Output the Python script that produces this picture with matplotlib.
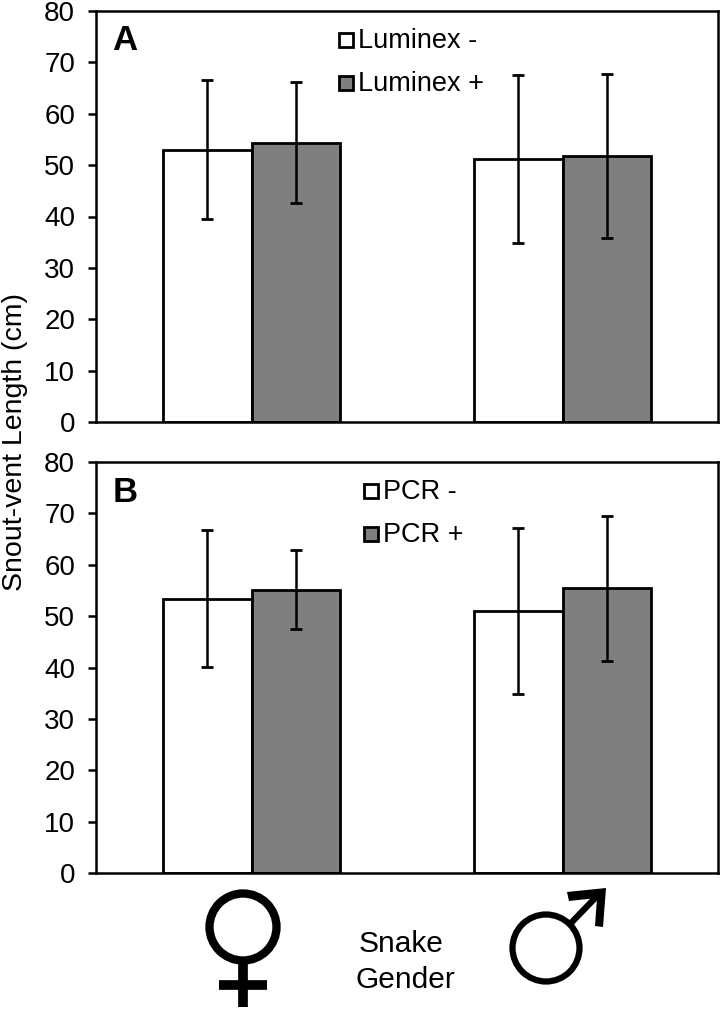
#!/usr/bin/env python3
"""Snout-vent length by snake gender, Luminex and PCR panels."""

import matplotlib
matplotlib.use("Agg")
import matplotlib.pyplot as plt
from matplotlib.patches import Circle, Polygon

plt.rcParams["font.family"] = ["Liberation Sans", "DejaVu Sans"]

W, H = 720, 1009
GREY = "#7f7f7f"

genders = ["Female", "Male"]
yticks = [0, 10, 20, 30, 40, 50, 60, 70, 80]

# panel A
lum_neg = [53.0, 51.2]
lum_neg_err = [13.5, 16.3]
lum_pos = [54.4, 51.8]
lum_pos_err = [11.7, 15.9]

# panel B
pcr_neg = [53.4, 51.0]
pcr_neg_err = [13.3, 16.2]
pcr_pos = [55.1, 55.4]
pcr_pos_err = [7.7, 14.1]


def panel(top, bottom, neg, neg_err, pos, pos_err, labels, letter, leg_x, leg_y):
    ax = fig.add_axes([96 / W, 1 - bottom / H, (718 - 96) / W, (bottom - top) / H])
    bw = 0.286
    xs = range(len(genders))
    err_kw = dict(ecolor="black", elinewidth=1.8, capsize=4, capthick=2)
    ax.bar([x - bw / 2 for x in xs], neg, bw, yerr=neg_err, color="white",
           edgecolor="black", linewidth=2.0, error_kw=err_kw, label=labels[0])
    ax.bar([x + bw / 2 for x in xs], pos, bw, yerr=pos_err, color=GREY,
           edgecolor="black", linewidth=2.0, error_kw=err_kw, label=labels[1])
    ax.set_xlim(-0.5, 1.5)
    ax.set_ylim(0, 80)
    ax.set_yticks(yticks)
    ax.set_xticks([])
    ax.tick_params(axis="y", length=6, width=1.8, labelsize=20, pad=9)
    for s in ax.spines.values():
        s.set_linewidth(1.8)
    ax.text((125 - 96) / (718 - 96), 1 - (leg_y + 1 - top) / (bottom - top), letter,
            transform=ax.transAxes, fontsize=25, fontweight="bold",
            ha="center", va="center")
    # legend swatches and labels
    for i, (fc, lab) in enumerate(zip(["white", GREY], labels)):
        yp = leg_y + i * 43
        ax_x = (leg_x - 96) / (718 - 96)
        ax_y = 1 - (yp - top) / (bottom - top)
        ax.plot([ax_x], [ax_y], marker="s", ms=10.5, mfc=fc, mec="black", mew=2,
                transform=ax.transAxes, clip_on=False, ls="none")
        ax.text(ax_x + 12 / 622, ax_y - 0.002, lab, transform=ax.transAxes,
                fontsize=19.5, ha="left", va="center")
    return ax


fig = plt.figure(figsize=(W / 100, H / 100), dpi=100)

panel(11, 422, lum_neg, lum_neg_err, lum_pos, lum_pos_err,
      ["Luminex -", "Luminex +"], "A", 346, 40)
panel(462, 873, pcr_neg, pcr_neg_err, pcr_pos, pcr_pos_err,
      ["PCR -", "PCR +"], "B", 371, 491)

fig.text(15 / W, 1 - 442 / H, "Snout-vent Length (cm)", rotation=90,
         fontsize=20.5, ha="center", va="center")
fig.text(401 / W, 1 - 944 / H, "Snake", fontsize=21.5, ha="center", va="center")
fig.text(405 / W, 1 - 980 / H, "Gender", fontsize=21.5, ha="center", va="center")

# gender symbols, in pixel coordinates
ov = fig.add_axes([0, 0, 1, 1])
ov.set_xlim(0, W)
ov.set_ylim(H, 0)
ov.axis("off")
ov.patch.set_alpha(0)

# female
ov.add_patch(Circle((243, 927), 33.5, fc="none", ec="black", lw=6))
ov.plot([243, 243], [961, 1007], color="black", lw=7, solid_capstyle="butt")
ov.plot([219, 267], [985, 985], color="black", lw=7, solid_capstyle="butt")

# male
ov.add_patch(Circle((546, 948), 33.5, fc="none", ec="black", lw=4.5))
ov.plot([571, 600], [923, 893], color="black", lw=4.5, solid_capstyle="butt")
ov.add_patch(Polygon([(567, 892), (606, 888), (603, 927), (595, 926),
                      (597, 898), (569, 901)], closed=True, fc="black", ec="none"))

fig.savefig("out.png", dpi=100)
